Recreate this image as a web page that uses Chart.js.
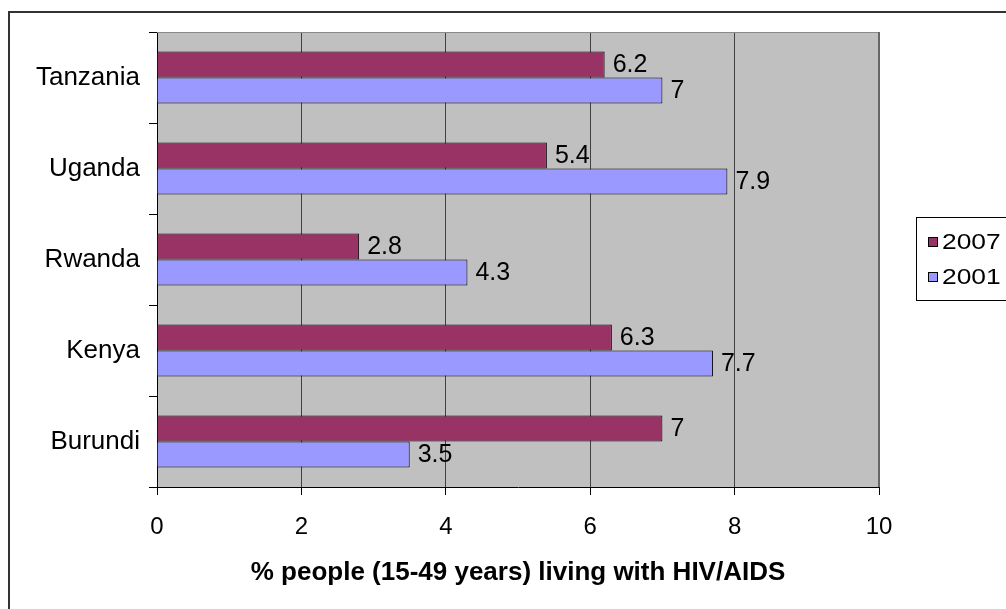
<!DOCTYPE html>
<html>
<head>
<meta charset="utf-8">
<script src="https://cdn.jsdelivr.net/npm/chart.js@4/dist/chart.umd.min.js"></script>
<style>
  html, body { margin: 0; padding: 0; background: #ffffff; }
  #wrap { width: 1006px; height: 609px; position: relative; }
</style>
</head>
<body>
<div id="wrap"><canvas id="c" width="1006" height="609"></canvas></div>
<script>
// HIV prevalence in East African countries, adults 15-49 years (%)
const countries = ['Tanzania', 'Uganda', 'Rwanda', 'Kenya', 'Burundi'];
const seriesNames = ['2007', '2001'];
const values2007 = [6.2, 5.4, 2.8, 6.3, 7];
const values2001 = [7, 7.9, 4.3, 7.7, 3.5];
const xTicks = [0, 2, 4, 6, 8, 10];
const axisTitle = '% people (15-49 years) living with HIV/AIDS';

const FONT = '"Liberation Sans", Arial, Helvetica, sans-serif';
const colors = ['#993366', '#9999FF'];

// Frame around the whole chart and grey plot background
const backdrop = {
  id: 'backdrop',
  beforeDraw(chart) {
    const { ctx, chartArea: a } = chart;
    ctx.save();
    ctx.fillStyle = '#ffffff';
    ctx.fillRect(0, 0, chart.width, chart.height);
    ctx.strokeStyle = '#333333';
    ctx.lineWidth = 2;
    ctx.strokeRect(9, 12, chart.width + 40, chart.height + 40);
    ctx.fillStyle = '#C0C0C0';
    ctx.fillRect(a.left, a.top, a.right - a.left, a.bottom - a.top);
    ctx.restore();
  },
  beforeDatasetsDraw(chart) {
    const { ctx, chartArea: a } = chart;
    ctx.save();
    ctx.strokeStyle = '#8a8a8a';
    ctx.lineWidth = 1;
    ctx.beginPath();
    ctx.moveTo(a.left, a.top + 0.5);
    ctx.lineTo(a.right, a.top + 0.5);
    ctx.stroke();
    ctx.strokeStyle = '#666666';
    ctx.lineWidth = 2;
    ctx.beginPath();
    ctx.moveTo(a.right, a.top);
    ctx.lineTo(a.right, a.bottom);
    ctx.stroke();
    ctx.restore();
  }
};

// Value labels to the right of each bar
const valueLabels = {
  id: 'valueLabels',
  afterDatasetsDraw(chart) {
    const { ctx } = chart;
    ctx.save();
    ctx.font = '25px ' + FONT;
    ctx.fillStyle = '#000000';
    ctx.textAlign = 'left';
    ctx.textBaseline = 'middle';
    chart.data.datasets.forEach((ds, i) => {
      chart.getDatasetMeta(i).data.forEach((bar, j) => {
        ctx.fillText(String(ds.data[j]), bar.x + 8, bar.y + 1);
      });
    });
    ctx.restore();
  }
};

// Boxed legend at the right edge
const boxLegend = {
  id: 'boxLegend',
  afterDraw(chart) {
    const { ctx } = chart;
    const x0 = 916, y0 = 217, h = 83;
    ctx.save();
    ctx.fillStyle = '#ffffff';
    ctx.fillRect(x0, y0, chart.width - x0 + 10, h);
    ctx.strokeStyle = '#000000';
    ctx.lineWidth = 1;
    ctx.strokeRect(x0 + 0.5, y0 + 0.5, chart.width - x0 + 10, h);
    ctx.font = '22px ' + FONT;
    ctx.textBaseline = 'middle';
    const rows = [242, 277];
    chart.data.datasets.forEach((ds, i) => {
      const y = rows[i];
      ctx.fillStyle = ds.backgroundColor;
      ctx.fillRect(928, y - 5, 10, 10);
      ctx.strokeStyle = '#000000';
      ctx.strokeRect(928.5, y - 4.5, 9, 9);
      ctx.fillStyle = '#000000';
      ctx.save();
      ctx.translate(942, y + 1);
      ctx.scale(1.2, 1);
      ctx.fillText(ds.label, 0, 0);
      ctx.restore();
    });
    ctx.restore();
  }
};

const chart = new Chart(document.getElementById('c'), {
  type: 'bar',
  data: {
    labels: countries,
    datasets: [
      { label: seriesNames[0], data: values2007, backgroundColor: colors[0] },
      { label: seriesNames[1], data: values2001, backgroundColor: colors[1] }
    ]
  },
  options: {
    indexAxis: 'y',
    responsive: false,
    animation: false,
    devicePixelRatio: 1,
    layout: { padding: { left: 0, top: 32, right: 127, bottom: 0 } },
    datasets: {
      bar: {
        categoryPercentage: 0.572,
        barPercentage: 1,
        borderColor: '#000000',
        borderWidth: 1,
        borderSkipped: 'start'
      }
    },
    plugins: {
      legend: { display: false },
      tooltip: { enabled: false }
    },
    scales: {
      x: {
        type: 'linear',
        min: 0,
        max: 10,
        afterBuildTicks(scale) { scale.ticks = xTicks.map(v => ({ value: v })); },
        afterFit(scale) { scale.height = 122; },
        ticks: {
          color: '#000000',
          font: { family: FONT, size: 24 },
          padding: 18
        },
        grid: {
          color: (c) => (c.tick && (c.tick.value === 0 || c.tick.value === 10)) ? 'rgba(0,0,0,0)' : '#404040',
          tickColor: '#000000',
          tickLength: 8,
          lineWidth: 1
        },
        border: { color: '#000000', width: 1 },
        title: {
          display: true,
          text: axisTitle,
          color: '#000000',
          font: { family: FONT, size: 26, weight: 'bold' },
          padding: { top: 0, bottom: 21 }
        }
      },
      y: {
        afterFit(scale) { scale.width = 157; },
        ticks: {
          color: '#000000',
          font: { family: FONT, size: 26 },
          padding: 9
        },
        grid: {
          drawOnChartArea: false,
          drawTicks: true,
          tickLength: 8,
          tickColor: '#000000',
          offset: true
        },
        border: { color: '#000000', width: 1 }
      }
    }
  },
  plugins: [backdrop, valueLabels, boxLegend]
});
</script>
</body>
</html>
